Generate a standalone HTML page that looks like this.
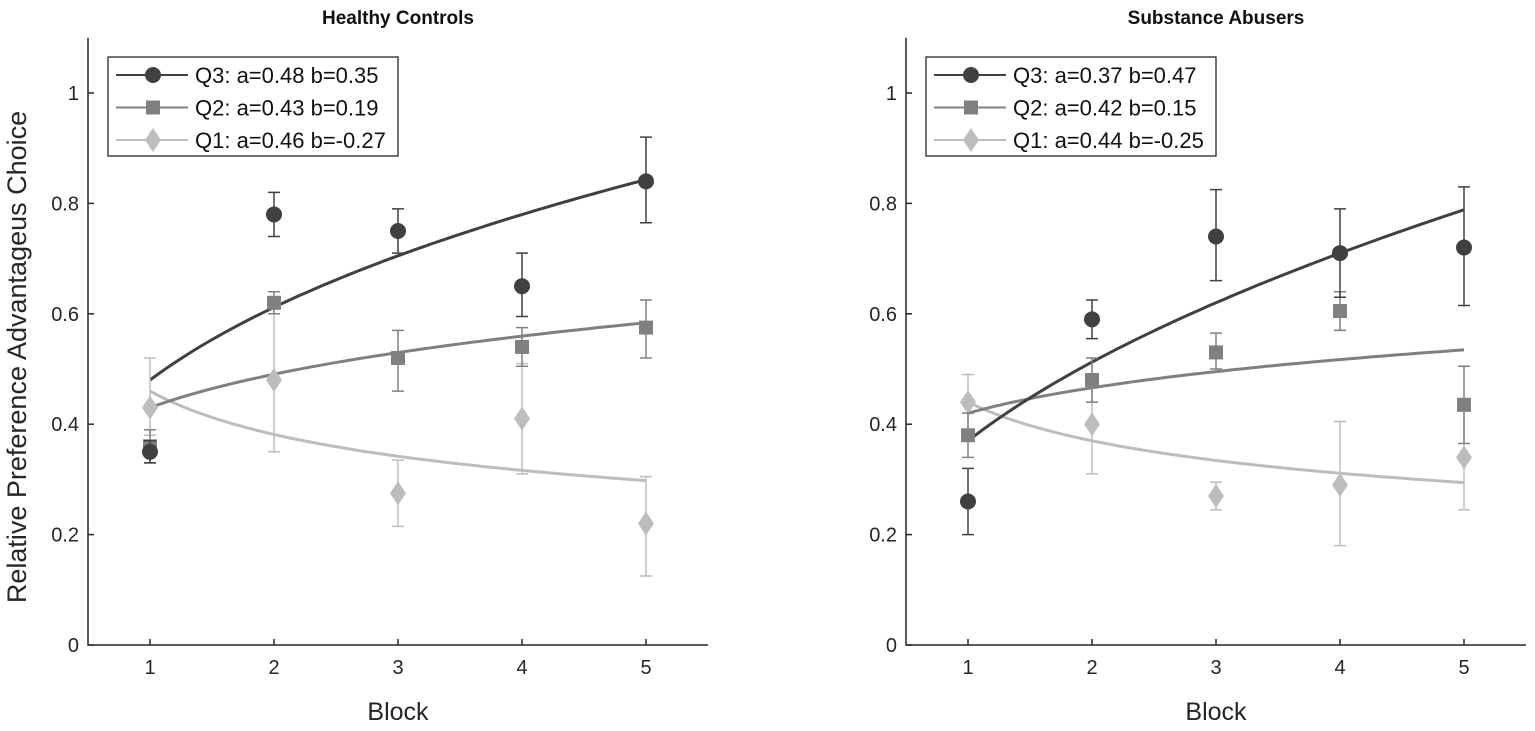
<!DOCTYPE html>
<html><head><meta charset="utf-8"><style>
body{margin:0;background:#fff;}
svg text{font-family:"Liberation Sans",sans-serif;}
</style></head><body>
<svg id="chart" width="1535" height="726" xmlns="http://www.w3.org/2000/svg"></svg>
<script>
const blocks=[1,2,3,4,5];
const yTicks=[0,0.2,0.4,0.6,0.8,1];
const yTickLabels=["0","0.2","0.4","0.6","0.8","1"];
const seriesNames=["Q3","Q2","Q1"];
const colors=["#404040","#808080","#bdbdbd"];
const hcA=[0.48,0.43,0.46], hcB=[0.35,0.19,-0.27];
const saA=[0.37,0.42,0.44], saB=[0.47,0.15,-0.25];
const hcQ3=[0.35,0.78,0.75,0.65,0.84], hcQ3lo=[0.33,0.74,0.71,0.595,0.765], hcQ3hi=[0.37,0.82,0.79,0.71,0.92];
const hcQ2=[0.36,0.62,0.52,0.54,0.575], hcQ2lo=[0.33,0.60,0.46,0.505,0.52], hcQ2hi=[0.39,0.64,0.57,0.575,0.625];
const hcQ1=[0.43,0.48,0.275,0.41,0.22], hcQ1lo=[0.38,0.35,0.215,0.31,0.125], hcQ1hi=[0.52,0.61,0.335,0.51,0.305];
const saQ3=[0.26,0.59,0.74,0.71,0.72], saQ3lo=[0.20,0.555,0.66,0.63,0.615], saQ3hi=[0.32,0.625,0.825,0.79,0.83];
const saQ2=[0.38,0.48,0.53,0.605,0.435], saQ2lo=[0.34,0.44,0.50,0.57,0.365], saQ2hi=[0.42,0.52,0.565,0.64,0.505];
const saQ1=[0.44,0.40,0.27,0.29,0.34], saQ1lo=[0.39,0.31,0.245,0.18,0.245], saQ1hi=[0.49,0.49,0.295,0.405,0.435];

const svg=document.getElementById('chart');
const NS='http://www.w3.org/2000/svg';
function mk(tag,attrs,parent){const e=document.createElementNS(NS,tag);for(const k in attrs)e.setAttribute(k,attrs[k]);(parent||svg).appendChild(e);return e;}

function panel(x0,title,key,A,B,vals,los,his){
  const g=mk('g',{});
  
  
  const X=v=>x0+(v-0.5)*124, Y=v=>645-v*552;
  const t=mk('text',{x:X(3),y:24,'text-anchor':'middle','font-size':19,'font-weight':'bold',fill:'#111'},g);t.textContent=title;
  
  const ax=mk('path',{d:`M${X(0.5)},${Y(1.1)}V${Y(0)}H${X(5.5)}`,stroke:'#262626','stroke-width':1.5,fill:'none'},g);
  
  yTicks.forEach((v,i)=>{mk('line',{x1:X(0.5),x2:X(0.5)+6,y1:Y(v),y2:Y(v),stroke:'#262626','stroke-width':1.5},g);
    const l=mk('text',{x:X(0.5)-9,y:Y(v)+7,'text-anchor':'end','font-size':20,fill:'#262626'},g);l.textContent=yTickLabels[i];
    });
  blocks.forEach(b=>{mk('line',{x1:X(b),x2:X(b),y1:Y(0),y2:Y(0)-6,stroke:'#262626','stroke-width':1.5},g);
    const l=mk('text',{x:X(b),y:Y(0)+29,'text-anchor':'middle','font-size':20,fill:'#262626'},g);l.textContent=b;
    });
  const xl=mk('text',{x:X(3),y:720,'text-anchor':'middle','font-size':25,fill:'#262626'},g);xl.textContent='Block';
  
  for(let s=2;s>=0;s--){
    let d='';for(let k=0;k<=60;k++){const xv=1+4*k/60;d+=(k?'L':'M')+X(xv).toFixed(1)+','+Y(A[s]*Math.pow(xv,B[s])).toFixed(1);}
    const p=mk('path',{d,stroke:colors[s],'stroke-width':3,fill:'none'},g);
    
  }
  for(let s=2;s>=0;s--){
    blocks.forEach((b,i)=>{
      const x=X(b);
      const e=mk('path',{d:`M${x},${Y(los[s][i])}V${Y(his[s][i])}M${x-6},${Y(los[s][i])}H${x+6}M${x-6},${Y(his[s][i])}H${x+6}`,stroke:colors[s],'stroke-width':1.5,fill:'none'},g);
      
      const y=Y(vals[s][i]);let m;
      if(s==0)m=mk('circle',{cx:x,cy:y,r:8,fill:colors[0]},g);
      else if(s==1)m=mk('rect',{x:x-7,y:y-7,width:14,height:14,fill:colors[1]},g);
      else m=mk('path',{d:`M${x},${y-12}L${x+8},${y}L${x},${y+12}L${x-8},${y}Z`,fill:colors[2]},g);
      
    });
  }
  const lg=mk('g',{},g);
  const lx=x0+20;
  mk('rect',{x:lx,y:57,width:290,height:99,fill:'#fff',stroke:'#262626','stroke-width':1.3},lg);
  for(let s=0;s<3;s++){
    const y=75+s*32.5;
    mk('line',{x1:lx+8,x2:lx+80,y1:y,y2:y,stroke:colors[s],'stroke-width':2},lg);
    const cx=lx+45;
    if(s==0)mk('circle',{cx,cy:y,r:8,fill:colors[0]},lg);
    else if(s==1)mk('rect',{x:cx-7,y:y-7,width:14,height:14,fill:colors[1]},lg);
    else mk('path',{d:`M${cx},${y-12}L${cx+8},${y}L${cx},${y+12}L${cx-8},${y}Z`,fill:colors[2]},lg);
    const tx=mk('text',{x:lx+87,y:y+8,'font-size':22,fill:'#111'},lg);
    tx.textContent=`${seriesNames[s]}: a=${A[s].toFixed(2)} b=${B[s].toFixed(2)}`;
    
  }
}
panel(88,'Healthy Controls','healthy',hcA,hcB,[hcQ3,hcQ2,hcQ1],[hcQ3lo,hcQ2lo,hcQ1lo],[hcQ3hi,hcQ2hi,hcQ1hi]);
panel(906,'Substance Abusers','substance',saA,saB,[saQ3,saQ2,saQ1],[saQ3lo,saQ2lo,saQ1lo],[saQ3hi,saQ2hi,saQ1hi]);
const yl=mk('text',{x:0,y:0,transform:'translate(26,357) rotate(-90)','text-anchor':'middle','font-size':27,fill:'#262626'});
yl.textContent='Relative Preference Advantageus Choice';


</script>
</body></html>
